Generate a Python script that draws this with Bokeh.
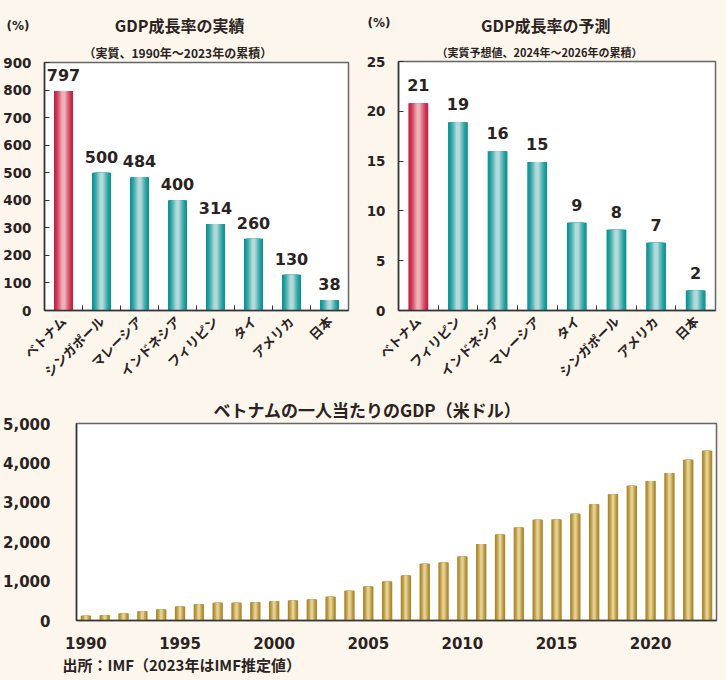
import math
from bokeh.plotting import figure
from bokeh.models import Range1d, FixedTicker, NumeralTickFormatter, Title
from bokeh.layouts import column, row
from bokeh.embed import file_html
from bokeh.resources import INLINE
from bokeh.core.properties import value

# ---------------- data ----------------
actual_countries = ["ベトナム", "シンガポール", "マレーシア", "インドネシア", "フィリピン", "タイ", "アメリカ", "日本"]
actual_growth = [797, 500, 484, 400, 314, 260, 130, 38]

forecast_countries = ["ベトナム", "フィリピン", "インドネシア", "マレーシア", "タイ", "シンガポール", "アメリカ", "日本"]
forecast_growth = [20.8, 18.9, 16.0, 14.9, 8.8, 8.1, 6.8, 2.0]

years = list(range(1990, 2024))
gdp_per_capita = [119, 135, 178, 237, 280, 356, 415, 449, 449, 466,
                  491, 508, 534, 601, 754, 864, 991, 1143, 1440, 1474,
                  1626, 1940, 2185, 2363, 2558, 2566, 2710, 2948, 3202, 3422,
                  3540, 3744, 4083, 4311]
year_ticks = [1990, 1995, 2000, 2005, 2010, 2015, 2020]
gdp_ticks = [0, 1000, 2000, 3000, 4000, 5000]

# ---------------- styles ----------------
BG = "#fdf6ec"
TXT = "#2a2322"
NUM_FONT = "DejaVu Sans, Noto Sans CJK JP"
JP_FONT = "Noto Sans CJK JP, DejaVu Sans"
W = 363
HEAD_H = 39


def mix(c1, c2, t):
    a = [int(c1[i:i + 2], 16) for i in (1, 3, 5)]
    b = [int(c2[i:i + 2], 16) for i in (1, 3, 5)]
    return "#%02x%02x%02x" % tuple(round(a[k] + (b[k] - a[k]) * t) for k in range(3))


def cylinder_bars(p, x, top, width, dark, light, n=8):
    for k in range(n):
        t = k / (n - 1)
        w = width * (1 - 0.8 * t)
        p.vbar(x=x, top=top, width=w, bottom=0, fill_color=mix(dark, light, t ** 1.4),
               line_color=None)


def style_common(p):
    p.background_fill_color = "white"
    p.border_fill_color = BG
    p.outline_line_color = "#666666"
    p.outline_line_width = 1.5
    p.xgrid.visible = False
    p.ygrid.visible = False
    for ax in (p.xaxis, p.yaxis):
        ax.axis_line_color = "#333333"
        ax.axis_line_width = 1.5
        ax.major_label_text_color = TXT
        ax.major_label_text_font_style = "bold"
        ax.minor_tick_line_color = "#333333"
        ax.major_tick_line_color = "#333333"


def add_title(p, text, size, offset, place="above", standoff=4, font=JP_FONT):
    p.add_layout(Title(text=text, align="left", offset=offset, text_font=font,
                       text_font_size=size, text_font_style="bold", text_color=TXT,
                       standoff=standoff), place)


def header(left, right, unit_y, unit_standoff, title, title_x, title_y):
    # frame spans the same columns as the chart below it: data x == canvas x
    h = figure(width=W, height=HEAD_H, x_range=Range1d(left, W - right),
               y_range=Range1d(HEAD_H, 0), output_backend="svg", toolbar_location=None,
               min_border_left=left, min_border_right=right, min_border_top=0,
               min_border_bottom=0, x_axis_location=None)
    h.background_fill_color = BG
    h.border_fill_color = BG
    h.outline_line_color = None
    h.xgrid.visible = False
    h.ygrid.visible = False
    h.yaxis.ticker = FixedTicker(ticks=[unit_y])
    h.yaxis.major_label_overrides = {unit_y: "(%)"}
    h.yaxis.axis_line_color = None
    h.yaxis.major_tick_line_color = None
    h.yaxis.minor_tick_line_color = None
    h.yaxis.major_label_standoff = unit_standoff
    h.yaxis.major_label_text_font = NUM_FONT
    h.yaxis.major_label_text_font_size = "12px"
    h.yaxis.major_label_text_font_style = "bold"
    h.yaxis.major_label_text_color = TXT
    h.text(x=[title_x], y=[title_y], text=[title], text_align="center", text_baseline="middle",
           text_font=value(JP_FONT), text_font_size="16px", text_font_style="bold",
           text_color=TXT)
    return h


def growth_chart(countries, vals, labels, ymax, ystep, left, right, bottom, label_off,
                 subtitle, s_off, s_size):
    xs = list(range(1, len(countries) + 1))
    p = figure(width=W, height=390 - HEAD_H, x_range=Range1d(0.5, len(countries) + 0.5),
               y_range=Range1d(0, ymax), output_backend="svg", toolbar_location=None,
               min_border_left=left, min_border_right=right, min_border_top=61 - HEAD_H,
               min_border_bottom=bottom)
    style_common(p)
    for i, (x, v) in enumerate(zip(xs, vals)):
        if i == 0:
            cylinder_bars(p, [x], [v], 0.5, "#c81f43", "#ecb2b8")
        else:
            cylinder_bars(p, [x], [v], 0.5, "#0c9494", "#b3dada")
    p.text(x=xs, y=vals, text=labels, text_align="center", text_baseline="bottom",
           y_offset=-label_off, text_font=value(NUM_FONT), text_font_size="16px",
           text_font_style="bold", text_color=TXT)
    p.xaxis.ticker = FixedTicker(ticks=xs, minor_ticks=[x + 0.5 for x in xs[:-1]])
    p.xaxis.major_label_overrides = {x: c for x, c in zip(xs, countries)}
    p.xaxis.major_label_orientation = math.pi / 4
    p.xaxis.major_tick_in = 0
    p.xaxis.major_tick_out = 0
    p.xaxis.minor_tick_in = 5
    p.xaxis.minor_tick_out = 0
    p.xaxis.major_label_standoff = 8
    p.xaxis.major_label_text_font = JP_FONT
    p.xaxis.major_label_text_font_size = "13px"
    p.yaxis.ticker = FixedTicker(ticks=list(range(0, ymax + 1, ystep)))
    p.yaxis.major_tick_in = 5
    p.yaxis.major_tick_out = 0
    p.yaxis.minor_tick_line_color = None
    p.yaxis.major_label_standoff = 13
    p.yaxis.major_label_text_font = NUM_FONT
    p.yaxis.major_label_text_font_size = "13.5px"
    add_title(p, subtitle, s_size, s_off, standoff=4)
    return p


h1 = header(42, 15, 25, 9, "GDP成長率の実績", 178, 24)
p1 = growth_chart(actual_countries, actual_growth, [str(v) for v in actual_growth],
                  900, 100, 42, 15, 79, 10,
                  "（実質、1990年～2023年の累積）", 39, "12px")

h2 = header(27, 11, 22, 2, "GDP成長率の予測", 178, 24)
p2 = growth_chart(forecast_countries, forecast_growth, [str(round(v)) for v in forecast_growth],
                  25, 5, 27, 11, 80, 12,
                  "（実質予想値、2024年～2026年の累積）", 38, "11px")

# ---------------- bottom chart ----------------
p3 = figure(width=726, height=290, x_range=Range1d(1989.5, 2023.5), y_range=Range1d(0, 5000),
            output_backend="svg", toolbar_location=None,
            min_border_left=76, min_border_right=10, min_border_top=33, min_border_bottom=60)
style_common(p3)
cylinder_bars(p3, years, gdp_per_capita, 0.55, "#ad8626", "#e4d398", n=6)
p3.xaxis.ticker = FixedTicker(ticks=year_ticks)
p3.yaxis.ticker = FixedTicker(ticks=gdp_ticks)
p3.yaxis.formatter = NumeralTickFormatter(format="0,0")
for ax in (p3.xaxis, p3.yaxis):
    ax.major_tick_line_color = None
    ax.minor_tick_line_color = None
    ax.major_label_text_font = NUM_FONT
    ax.major_label_text_font_size = "15px"
p3.xaxis.major_label_standoff = 10
p3.yaxis.major_label_standoff = 20
add_title(p3, "ベトナムの一人当たりのGDP（米ドル）", "17px", 137, standoff=4)
add_title(p3, "出所：IMF（2023年はIMF推定値）", "15px", -14, place="below", standoff=0)

layout = column(row(column(h1, p1, spacing=0), column(h2, p2, spacing=0), spacing=0),
                p3, spacing=0)
html = file_html(layout, INLINE)
html = html.replace("<head>", "<head><style>html,body{margin:0;padding:0;background:%s;}</style>" % BG, 1)
open("out.html", "w").write(html)
